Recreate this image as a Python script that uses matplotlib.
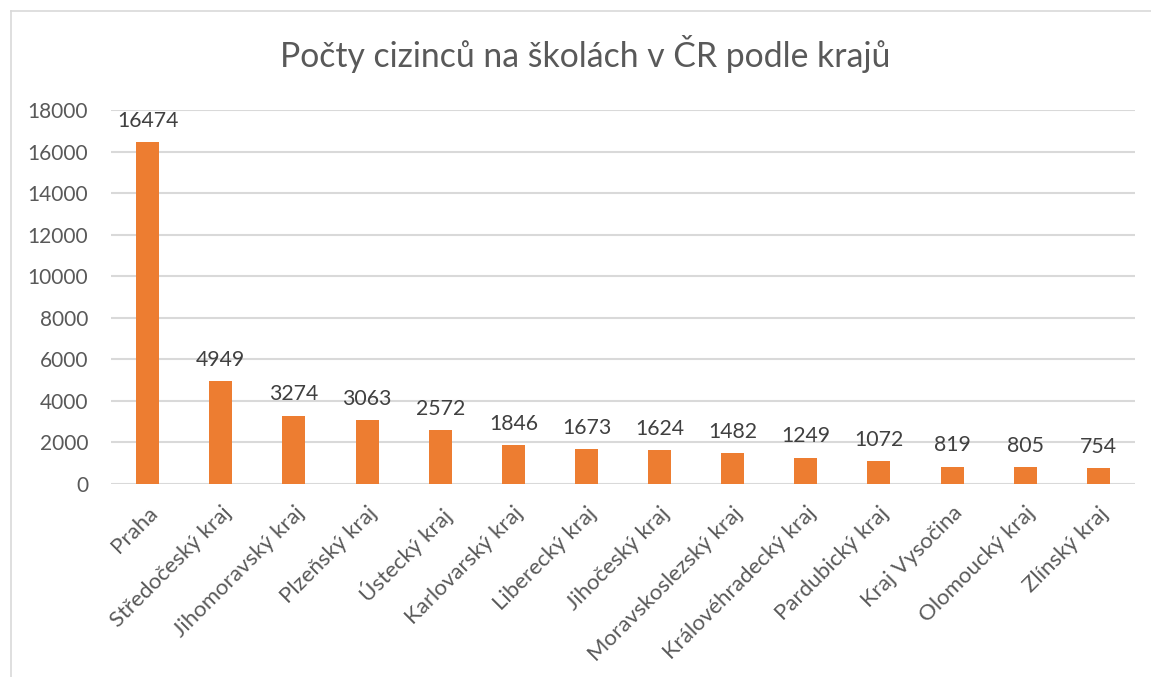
import matplotlib.pyplot as plt
from matplotlib.lines import Line2D

kraje = ["Praha", "Středočeský kraj", "Jihomoravský kraj", "Plzeňský kraj",
         "Ústecký kraj", "Karlovarský kraj", "Liberecký kraj", "Jihočeský kraj",
         "Moravskoslezský kraj", "Královéhradecký kraj", "Pardubický kraj",
         "Kraj Vysočina", "Olomoucký kraj", "Zlínský kraj"]
pocty = [16474, 4949, 3274, 3063, 2572, 1846, 1673, 1624, 1482, 1249, 1072,
         819, 805, 754]
y_ticks = [0, 2000, 4000, 6000, 8000, 10000, 12000, 14000, 16000, 18000]

plt.rcParams['font.family'] = ['Lato', 'DejaVu Sans']

fig = plt.figure(figsize=(11.51, 6.77), dpi=100)
ax = fig.add_axes([0.0965, 0.2858, 0.8895, 0.5517])

x = range(len(kraje))
bars = ax.bar(x, pocty, width=0.315, color='#ED7D31', zorder=3)
for b, v in zip(bars, pocty):
    ax.annotate(str(v), (b.get_x() + b.get_width() / 2, v),
                xytext=(0, 8), textcoords='offset points',
                ha='center', va='bottom', fontsize=15.3, color='#404040')

ax.set_xlim(-0.5, len(kraje) - 0.5)
ax.set_ylim(0, 18000)
ax.set_yticks(y_ticks)
ax.set_yticklabels([str(t) for t in y_ticks])
ax.set_xticks(list(x))
ax.set_xticklabels(kraje, rotation=45, ha='right', rotation_mode='anchor')
ax.tick_params(axis='both', length=0, labelcolor='#595959')
ax.tick_params(axis='x', pad=14, labelsize=16)
ax.tick_params(axis='y', pad=16.5, labelsize=15)
ax.grid(axis='y', color='#D9D9D9', linewidth=1.5, zorder=0)
for s in ax.spines.values():
    s.set_visible(False)

fig.suptitle("Počty cizinců na školách v ČR podle krajů", x=0.508, y=0.948,
             fontsize=24.3, color='#595959')

# chart border (cut off at right and bottom)
fig.add_artist(Line2D([10.5 / 1151, 10.5 / 1151], [0, 1 - 11 / 677],
                      transform=fig.transFigure, color='#D9D9D9', lw=1.2))
fig.add_artist(Line2D([10.5 / 1151, 1], [1 - 11 / 677, 1 - 11 / 677],
                      transform=fig.transFigure, color='#D9D9D9', lw=1.2))

fig.savefig("out.png", dpi=100)
